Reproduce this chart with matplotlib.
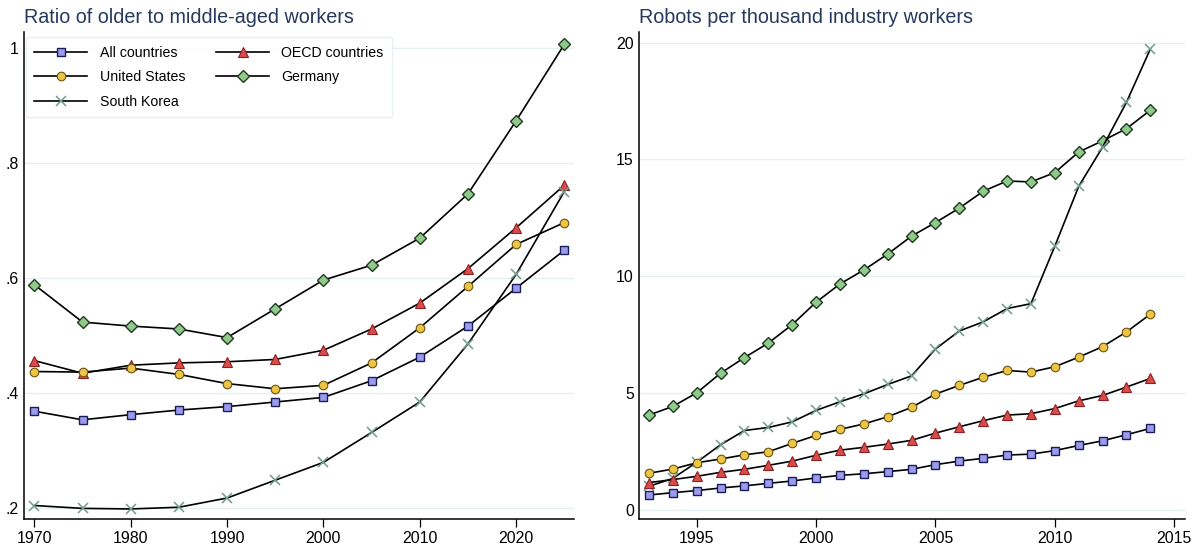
import matplotlib
matplotlib.use("Agg")
import matplotlib.pyplot as plt
from matplotlib.lines import Line2D

plt.rcParams['font.family'] = ['Liberation Sans', 'DejaVu Sans']

# ---- Left panel data: ratio of older to middle-aged workers ----
years_left = [1970, 1975, 1980, 1985, 1990, 1995, 2000, 2005, 2010, 2015, 2020, 2025]
ratio_all = [0.369, 0.354, 0.363, 0.371, 0.377, 0.385, 0.393, 0.422, 0.463, 0.517, 0.583, 0.649]
ratio_oecd = [0.457, 0.435, 0.449, 0.453, 0.455, 0.459, 0.475, 0.512, 0.557, 0.617, 0.688, 0.762]
ratio_us = [0.438, 0.437, 0.444, 0.433, 0.417, 0.408, 0.414, 0.453, 0.514, 0.586, 0.659, 0.697]
ratio_de = [0.589, 0.524, 0.517, 0.512, 0.497, 0.547, 0.597, 0.623, 0.670, 0.747, 0.874, 1.007]
ratio_kr = [0.205, 0.200, 0.199, 0.202, 0.218, 0.249, 0.280, 0.332, 0.385, 0.486, 0.607, 0.751]

# ---- Right panel data: robots per thousand industry workers ----
years_right = list(range(1993, 2015))
rob_all = [0.64, 0.74, 0.83, 0.94, 1.03, 1.14, 1.24, 1.37, 1.48, 1.55, 1.64, 1.74,
           1.94, 2.09, 2.21, 2.35, 2.39, 2.54, 2.76, 2.96, 3.22, 3.49]
rob_oecd = [1.17, 1.30, 1.44, 1.61, 1.74, 1.91, 2.09, 2.34, 2.56, 2.68, 2.82, 2.98,
            3.29, 3.56, 3.82, 4.06, 4.12, 4.34, 4.67, 4.90, 5.26, 5.63]
rob_us = [1.57, 1.75, 2.02, 2.18, 2.36, 2.49, 2.85, 3.19, 3.45, 3.68, 3.99, 4.39,
          4.96, 5.33, 5.68, 5.97, 5.90, 6.13, 6.54, 6.99, 7.62, 8.38]
rob_kr = [1.01, 1.35, 2.04, 2.79, 3.40, 3.53, 3.77, 4.26, 4.63, 4.97, 5.37, 5.74,
          6.89, 7.66, 8.05, 8.62, 8.83, 11.29, 13.85, 15.53, 17.45, 19.73]
rob_de = [4.06, 4.43, 5.01, 5.85, 6.52, 7.14, 7.93, 8.89, 9.67, 10.27, 10.95, 11.72,
          12.30, 12.92, 13.64, 14.08, 14.04, 14.44, 15.32, 15.80, 16.32, 17.11]

left_yticks = [0.2, 0.4, 0.6, 0.8, 1.0]
left_yticklabels = ['.2', '.4', '.6', '.8', '1']
left_xticks = [1970, 1980, 1990, 2000, 2010, 2020]
right_yticks = [0, 5, 10, 15, 20]
right_xticks = [1995, 2000, 2005, 2010, 2015]

labels = ['All countries', 'OECD countries', 'United States', 'Germany', 'South Korea']

styles = {
    'All countries': dict(marker='s', ms=6.2, mfc='#9b9beb', mec='#1c1c5a', mew=1.0),
    'OECD countries': dict(marker='^', ms=7.2, mfc='#d94c4c', mec='#8e1f1f', mew=0.8),
    'United States': dict(marker='o', ms=6.2, mfc='#ecc544', mec='#6b5412', mew=0.8),
    'Germany': dict(marker='D', ms=6.2, mfc='#8fca8a', mec='#1f3a1f', mew=1.0),
    'South Korea': dict(marker='x', ms=6.5, mfc='none', mec='#6f9c8c', mew=1.1),
}

title_color = '#27395e'
grid_color = '#e6eff1'

fig = plt.figure(figsize=(12.04, 5.5), dpi=100)
axL = fig.add_axes([0.0202, 0.0558, 0.4565, 0.8866])
axR = fig.add_axes([0.531, 0.0558, 0.4532, 0.8866])


def style_axes(ax):
    for s in ['top', 'right']:
        ax.spines[s].set_visible(False)
    for s in ['left', 'bottom']:
        ax.spines[s].set_linewidth(1.1)
        ax.spines[s].set_color('black')
    ax.yaxis.grid(True, color=grid_color, linewidth=1.0)
    ax.xaxis.grid(False)
    ax.set_axisbelow(True)
    ax.tick_params(axis='x', direction='out', length=5.5, width=0.9, labelsize=11.4, pad=3)
    ax.tick_params(axis='y', length=0, labelsize=11.4, pad=4)


def plot_series(ax, x, y, name, z):
    st = styles[name]
    ax.plot(x, y, color='black', lw=1.2, zorder=z, label=name, **st)


# Left panel
series_left = {
    'Germany': ratio_de, 'OECD countries': ratio_oecd, 'United States': ratio_us,
    'All countries': ratio_all, 'South Korea': ratio_kr,
}
for i, (name, vals) in enumerate(series_left.items()):
    plot_series(axL, years_left, vals, name, 3 + i)
style_axes(axL)
axL.set_xlim(1968.96, 2026.0)
axL.set_ylim(0.181, 1.029)
axL.set_yticks(left_yticks)
axL.set_yticklabels(left_yticklabels)
axL.set_xticks(left_xticks)
axL.set_title('Ratio of older to middle-aged workers', loc='left', fontsize=14.2,
              color=title_color, pad=6)

order = ['All countries', 'United States', 'South Korea', 'OECD countries', 'Germany']
handles = [Line2D([], [], color='black', lw=1.2, **styles[n]) for n in order]
leg = axL.legend(handles, order, ncol=2, loc='upper left', bbox_to_anchor=(0.003, 0.989),
                 borderaxespad=0, fontsize=10.2, handlelength=3.7, handletextpad=0.9,
                 columnspacing=2.2, labelspacing=0.75, frameon=True, fancybox=False,
                 borderpad=0.6)
leg.get_frame().set_edgecolor('#e3edf0')
leg.get_frame().set_linewidth(1.0)

# Right panel
series_right = {
    'Germany': rob_de, 'South Korea': rob_kr, 'United States': rob_us,
    'OECD countries': rob_oecd, 'All countries': rob_all,
}
for i, (name, vals) in enumerate(series_right.items()):
    plot_series(axR, years_right, vals, name, 3 + i)
style_axes(axR)
axR.set_xlim(1992.6, 2015.45)
axR.set_ylim(-0.4, 20.47)
axR.set_yticks(right_yticks)
axR.set_xticks(right_xticks)
axR.set_title('Robots per thousand industry workers', loc='left', fontsize=14.2,
              color=title_color, pad=6)

fig.savefig('out.png', dpi=100)
